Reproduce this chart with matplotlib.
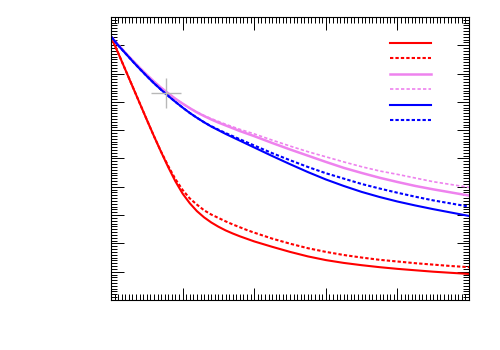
import matplotlib
matplotlib.use('Agg')
import matplotlib.pyplot as plt
from matplotlib.ticker import MultipleLocator, NullFormatter

# sample positions along x (denser where the curves bend)
x = [0, 0.1, 0.2, 0.3, 0.4, 0.5, 0.6, 0.7, 0.8, 0.9, 1.0,
     1.1, 1.2, 1.3, 1.4, 1.5, 1.6, 1.7, 1.8, 1.9, 2.0,
     2.25, 2.5, 2.75, 3.0, 3.25, 3.5, 3.75, 4.0, 4.25, 4.5, 4.75, 5.0]

# curves
red_solid = [9.31, 8.73, 8.14, 7.55, 6.96, 6.37, 5.79, 5.23, 4.69, 4.19, 3.76,
             3.42, 3.14, 2.92, 2.74, 2.59, 2.46, 2.35, 2.25, 2.16, 2.07,
             1.88, 1.70, 1.54, 1.41, 1.31, 1.23, 1.16, 1.10, 1.05, 1.00, 0.96, 0.92]
red_dash = [9.31, 8.73, 8.14, 7.55, 6.96, 6.37, 5.79, 5.24, 4.73, 4.27, 3.89,
            3.59, 3.37, 3.17, 3.02, 2.90, 2.78, 2.67, 2.57, 2.47, 2.38,
            2.17, 1.99, 1.83, 1.70, 1.59, 1.50, 1.42, 1.36, 1.30, 1.25, 1.20, 1.16]
violet_solid = [9.31, 9.02, 8.74, 8.47, 8.21, 7.96, 7.72, 7.50, 7.30, 7.11, 6.94,
                6.78, 6.63, 6.50, 6.38, 6.27, 6.17, 6.07, 5.97, 5.88, 5.79,
                5.55, 5.32, 5.10, 4.88, 4.67, 4.49, 4.32, 4.17, 4.03, 3.91, 3.80, 3.69]
violet_dash = [9.31, 9.02, 8.74, 8.47, 8.21, 7.96, 7.72, 7.50, 7.30, 7.11, 6.94,
               6.78, 6.64, 6.52, 6.41, 6.31, 6.21, 6.12, 6.03, 5.95, 5.87,
               5.65, 5.44, 5.24, 5.06, 4.88, 4.71, 4.56, 4.44, 4.31, 4.18, 4.08, 3.98]
blue_solid = [9.31, 9.00, 8.72, 8.44, 8.17, 7.91, 7.66, 7.43, 7.21, 7.00, 6.80,
              6.61, 6.44, 6.28, 6.13, 6.00, 5.87, 5.75, 5.63, 5.51, 5.39,
              5.09, 4.80, 4.52, 4.26, 4.03, 3.82, 3.64, 3.48, 3.34, 3.21, 3.09, 2.97]
blue_dash = [9.31, 9.00, 8.72, 8.44, 8.17, 7.91, 7.66, 7.43, 7.21, 7.00, 6.80,
             6.61, 6.44, 6.28, 6.14, 6.02, 5.90, 5.79, 5.68, 5.57, 5.46,
             5.19, 4.94, 4.70, 4.48, 4.29, 4.10, 3.94, 3.79, 3.65, 3.52, 3.41, 3.30]

# stray mouse crosshair in the original
cross_x = [0.77]
cross_y = [7.31]

fig = plt.figure(figsize=(5, 3.5), dpi=100)
ax = fig.add_axes([0.222, 0.1429, 0.716, 0.8085])

dash = (1.6, 1.0)
h1, = ax.plot(x, red_solid, color='#ff0000', lw=1.5)
h2, = ax.plot(x, red_dash, color='#ff0000', lw=1.5, dashes=dash)
h3, = ax.plot(x, violet_solid, color='#ee82ee', lw=1.8)
h4, = ax.plot(x, violet_dash, color='#ee82ee', lw=1.2, dashes=(2.0, 1.3))
h5, = ax.plot(x, blue_solid, color='#0000ff', lw=1.5)
h6, = ax.plot(x, blue_dash, color='#0000ff', lw=1.5, dashes=dash)

ax.plot(cross_x, cross_y, marker='+', markersize=22, mew=1.0,
        color='#b8b8b8', linestyle='none', zorder=5)

ax.set_xlim(0, 5)
ax.set_ylim(0, 10)

ax.xaxis.set_major_locator(MultipleLocator(1))
ax.xaxis.set_minor_locator(MultipleLocator(0.05))
ax.yaxis.set_major_locator(MultipleLocator(1))
ax.yaxis.set_minor_locator(MultipleLocator(0.1))
ax.xaxis.set_major_formatter(NullFormatter())
ax.yaxis.set_major_formatter(NullFormatter())
ax.tick_params(which='both', direction='in', top=True, right=True, width=0.7)
ax.tick_params(which='major', length=9)
ax.tick_params(which='minor', length=4.5)
for s in ax.spines.values():
    s.set_linewidth(0.8)

ax.legend([h1, h2, h3, h4, h5, h6], [''] * 6, loc='upper left',
          bbox_to_anchor=(0.779, 0.925), frameon=False, fontsize=7,
          handlelength=4.2, labelspacing=0.56, borderpad=0, borderaxespad=0,
          handletextpad=0)

fig.savefig('out.png', dpi=100)
